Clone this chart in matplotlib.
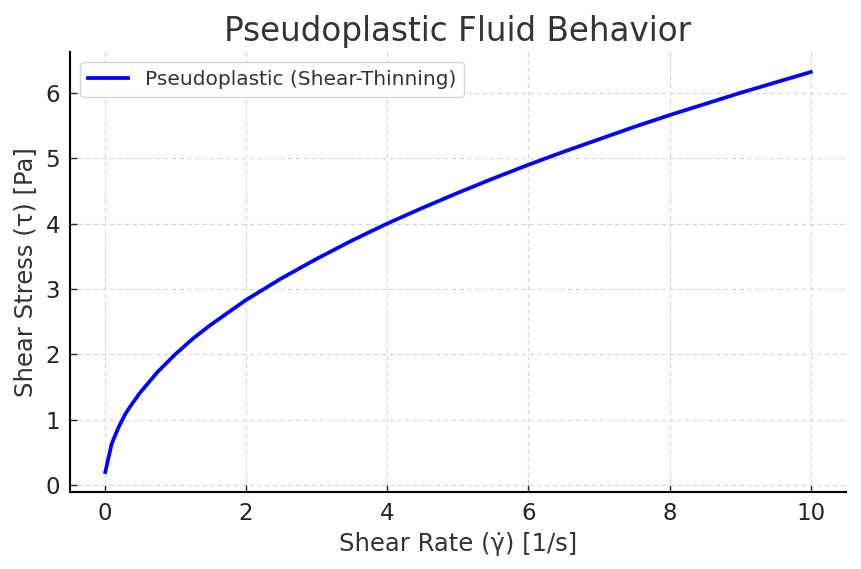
import numpy as np
import matplotlib
matplotlib.use("Agg")
import matplotlib.pyplot as plt

# Shear rate [1/s] and shear stress [Pa]
shear_rate = [0.01, 0.1, 0.2, 0.3, 0.4, 0.5, 0.75, 1.0, 1.25, 1.5, 2.0, 2.5, 3.0,
              3.5, 4.0, 4.5, 5.0, 5.5, 6.0, 6.5, 7.0, 7.5, 8.0, 8.5, 9.0, 9.5, 10.0]
shear_stress = [0.20, 0.63, 0.89, 1.10, 1.26, 1.41, 1.73, 2.00, 2.24, 2.45, 2.83, 3.16, 3.46,
                3.74, 4.00, 4.24, 4.47, 4.69, 4.90, 5.10, 5.29, 5.48, 5.66, 5.83, 6.00, 6.16, 6.32]

text_col = "#333333"

fig = plt.figure(figsize=(8.61, 5.69), dpi=100)
ax = fig.add_axes([0.0813, 0.1353, 0.9013, 0.7733])

ax.plot(shear_rate, shear_stress, color="blue", linewidth=2.7,
        label="Pseudoplastic (Shear-Thinning)")

ax.set_title("Pseudoplastic Fluid Behavior", fontsize=23.5, color=text_col, pad=8)
ax.set_xlabel("Shear Rate (\u03b3\u0307) [1/s]", fontsize=17.5, color=text_col, labelpad=5)
ax.set_ylabel("Shear Stress (\u03c4) [Pa]", fontsize=17.5, color=text_col, labelpad=6)

ax.grid(True, linestyle=(0, (4, 3)), color="#d5d5d5", linewidth=0.8)
ax.spines["top"].set_visible(False)
ax.spines["right"].set_visible(False)
for s in ("left", "bottom"):
    ax.spines[s].set_linewidth(1.5)
ax.tick_params(labelsize=16.5, length=5, width=1, direction="in", pad=7,
               colors="#222222")
ax.set_xticks([0, 2, 4, 6, 8, 10])

leg = ax.legend(loc="upper left", fontsize=14.5, frameon=True, handlelength=2.0)
for t in leg.get_texts():
    t.set_color(text_col)

fig.savefig("out.png", dpi=100)
